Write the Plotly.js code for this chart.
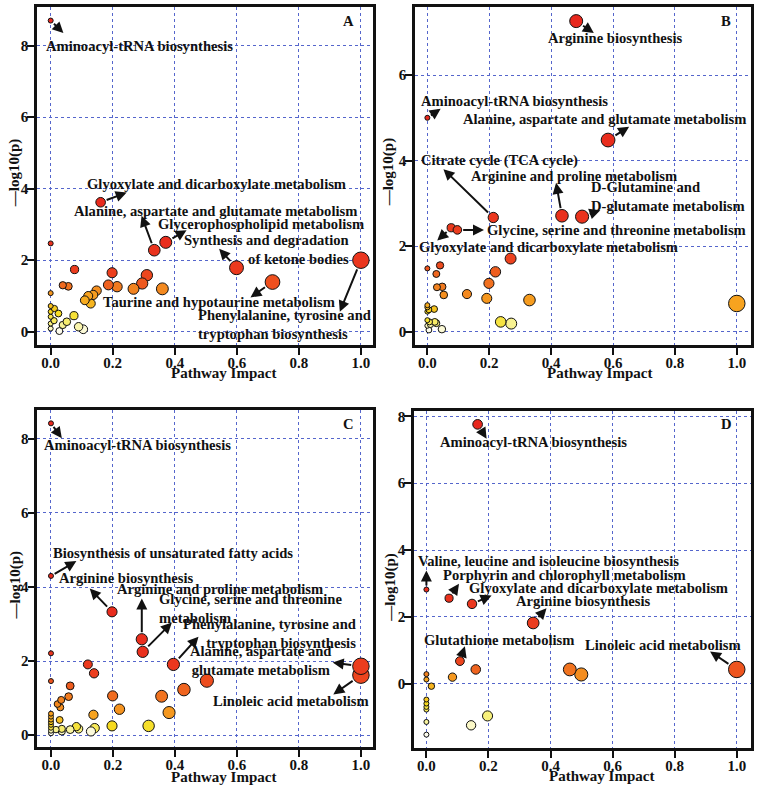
<!DOCTYPE html>
<html>
<head>
<meta charset="utf-8">
<script src="https://cdn.plot.ly/plotly-3.0.1.min.js"></script>
<style>
  html, body { margin: 0; padding: 0; background: #fff; }
  #chart { width: 762px; height: 794px; }
</style>
</head>
<body>
<div id="chart"></div>
<script>
// Pathway impact vs -log10(p), four panels (A-D)
// labelled points come first in each array so annotations can refer to them by index

const aX = [0, 0.161, 0.334, 0.371, 0.599, 0.715, 1.0,
    0, 0.077, 0, 0.039, 0.057, 0.198, 0.186, 0.214, 0.267, 0.295, 0.310, 0.360,
    0.110, 0.121, 0.137, 0.148, 0.129,
    0, 0.012, 0, 0.025, 0, 0.011, 0, 0, 0.075, 0.052, 0.039, 0.028, 0.090, 0.105];
const aY = [8.70, 3.62, 2.28, 2.50, 1.79, 1.39, 2.00,
    2.47, 1.74, 1.08, 1.30, 1.27, 1.65, 1.31, 1.26, 1.20, 1.35, 1.58, 1.20,
    0.88, 1.00, 1.03, 1.15, 0.79,
    0.72, 0.65, 0.56, 0.51, 0.42, 0.31, 0.23, 0.09, 0.45, 0.28, 0.19, 0.02, 0.14, 0.07];

const bX = [0.481, 0, 0.584, 0.213, 0.435, 0.500, 0.097, 0.077,
    0.269, 0.220, 0.199, 0.192, 0.128, 0.330, 1.0, 0.237, 0.271,
    0, 0.041, 0.029, 0.031, 0.048, 0.053,
    0, 0, 0.005, 0.022, 0, 0, 0.007, 0.024, 0.029, 0.010, 0, 0.005, 0.047];
const bY = [7.26, 5.00, 4.48, 2.67, 2.71, 2.69, 2.38, 2.43,
    1.71, 1.40, 1.13, 0.78, 0.88, 0.74, 0.66, 0.23, 0.19,
    1.48, 1.55, 1.35, 1.04, 1.05, 0.86,
    0.62, 0.57, 0.51, 0.53, 0.47, 0.27, 0.23, 0.23, 0.20, 0.17, 0.14, 0.04, 0.06];

const cX = [0, 0, 0.197, 0.293, 0.296, 0.395, 1.0, 1.0,
    0, 0, 0.119, 0.139, 0.062, 0.057, 0.033, 0.021, 0.030,
    0.503, 0.429, 0.357, 0.199, 0.221, 0.381, 0.137, 0.028,
    0, 0, 0, 0, 0, 0, 0, 0,
    0.016, 0.035, 0.035, 0.062, 0.082, 0.089, 0.129, 0.141, 0.197, 0.315];
const cY = [8.42, 4.30, 3.33, 2.59, 2.25, 1.91, 1.86, 1.62,
    2.21, 1.46, 1.91, 1.67, 1.33, 1.04, 0.95, 0.84, 0.75,
    1.47, 1.23, 1.05, 1.06, 0.70, 0.61, 0.55, 0.41,
    0.58, 0.50, 0.42, 0.35, 0.28, 0.20, 0.12, 0.05,
    0.15, 0.17, 0.10, 0.15, 0.23, 0.17, 0.10, 0.19, 0.25, 0.25];

const dX = [0.165, 0, 0.073, 0.147, 0.344, 0.108, 1.0,
    0.159, 0.084, 0.462, 0.499, 0, 0, 0.016,
    0, 0, 0, 0, 0, 0, 0.144, 0.197];
const dY = [7.76, 2.82, 2.56, 2.39, 1.82, 0.68, 0.43,
    0.43, 0.20, 0.43, 0.28, 0.29, 0.13, -0.07,
    -0.47, -0.59, -0.69, -0.77, -1.14, -1.52, -1.24, -0.96];

const aNames = ['Aminoacyl-tRNA biosynthesis', 'Glyoxylate and dicarboxylate metabolism',
    'Alanine, aspartate and glutamate metabolism', 'Glycerophospholipid metabolism',
    'Synthesis and degradation<br>of ketone bodies', 'Taurine and hypotaurine metabolism',
    'Phenylalanine, tyrosine and<br>tryptophan biosynthesis'];
const bNames = ['Arginine biosynthesis', 'Aminoacyl-tRNA biosynthesis',
    'Alanine, aspartate and glutamate metabolism', 'Citrate cycle (TCA cycle)',
    'Arginine and proline metabolism', 'D-Glutamine and<br>D-glutamate metabolism',
    'Glycine, serine and threonine metabolism', 'Glyoxylate and dicarboxylate metabolism'];
const cNames = ['Aminoacyl-tRNA biosynthesis', 'Biosynthesis of unsaturated fatty acids',
    'Arginine biosynthesis', 'Arginine and proline metabolism',
    'Glycine, serine and threonine<br>metabolism', 'Phenylalanine, tyrosine and<br>tryptophan biosynthesis',
    'Alanine, aspartate and<br>glutamate metabolism', 'Linoleic acid metabolism'];
const dNames = ['Aminoacyl-tRNA biosynthesis', 'Valine, leucine and isoleucine biosynthesis',
    'Porphyrin and chlorophyll metabolism', 'Glyoxylate and dicarboxylate metabolism',
    'Arginine biosynthesis', 'Glutathione metabolism', 'Linoleic acid metabolism'];

const xTicks = [0, 0.2, 0.4, 0.6, 0.8, 1.0];
const yTicks = [0, 2, 4, 6, 8];

// heat palette: red (most significant) -> orange -> yellow -> white
const heat = [
    [0, '#e8271d'], [0.22, '#ec3f1e'], [0.42, '#f2801f'], [0.58, '#f7a51f'],
    [0.72, '#f6dc1e'], [0.86, '#f7f07c'], [1, '#fdfcee']
];

const FONT = 'Liberation Serif, Times New Roman, serif';
const txtFont = { family: FONT, size: 14.6, weight: 'bold', color: '#111' };

// colour by rank of p (like heat.colors in R), size by impact
function rankColor(ys) {
    const order = ys.map((v, i) => i).sort((p, q) => ys[q] - ys[p]);
    const r = new Array(ys.length);
    order.forEach((idx, k) => { r[idx] = k / (ys.length - 1); });
    return r;
}
const markSize = xs => xs.map(v => 5 + 11.5 * Math.sqrt(v));

const panels = [
    { id: '', x: aX, y: aY, names: aNames, letter: 'A',
      dx: [0.0486, 0.4895], dy: [0.5655, 0.9912], xr: [-0.044, 1.039], yr: [-0.37, 9.08],
      lab: [
        { tx: 0.286, ty: 8.0, hx: 0.041, hy: 8.35 },
        { tx: 0.533, ty: 4.12, hx: 0.245, hy: 3.89 },
        { tx: 0.53, ty: 3.38, hx: 0.293, hy: 3.24 },
        { tx: 0.678, ty: 3.01, hx: 0.438, hy: 2.84 },
        { tx: 0.967, ty: 2.31, hx: 0.543, hy: 2.32, xa: 'right', al: 'right' },
        { tx: 0.543, ty: 0.84, hx: 0.644, hy: 0.96 },
        { tx: 0.47, ty: 0.19, hx: 0.932, hy: 0.56, xa: 'left', al: 'left' }
      ],
      ytl: { x: -0.065, y: 0.509 }, xtl: { x: 0.556, y: -0.084 } },
    { id: '2', x: bX, y: bY, names: bNames, letter: 'B',
      dx: [0.5446, 0.9856], dy: [0.5655, 0.9912], xr: [-0.04, 1.046], yr: [-0.31, 7.59],
      lab: [
        { tx: 0.608, ty: 6.87, hx: 0.538, hy: 6.98 },
        { tx: 0.282, ty: 5.40, hx: 0.043, hy: 5.21 },
        { tx: 0.572, ty: 4.97, hx: 0.652, hy: 4.79 },
        { tx: 0.234, ty: 4.0, hx: 0.052, hy: 3.80 },
        { tx: 0.475, ty: 3.64, hx: 0.416, hy: 3.48 },
        { tx: 0.522, ty: 3.17, hx: 0.559, hy: 2.84, xa: 'left', al: 'left' },
        { tx: 0.186, ty: 2.38, hx: 0.183, hy: 2.38, xa: 'left', al: 'left' },
        { tx: 0.392, ty: 1.97, hx: 0.032, hy: 2.13 }
      ],
      ytl: { x: -0.079, y: 0.512 }, xtl: { x: 0.55, y: -0.084 } },
    { id: '3', x: cX, y: cY, names: cNames, letter: 'C',
      dx: [0.049, 0.4895], dy: [0.0592, 0.4836], xr: [-0.044, 1.039], yr: [-0.32, 8.78],
      lab: [
        { tx: 0.279, ty: 7.84, hx: 0.035, hy: 8.02 },
        { tx: 0.393, ty: 4.91, hx: 0.082, hy: 4.70 },
        { tx: 0.245, ty: 4.25, hx: 0.125, hy: 3.96 },
        { tx: 0.546, ty: 3.95, hx: 0.293, hy: 3.69 },
        { tx: 0.342, ty: 3.43, hx: 0.39, hy: 3.04, xa: 'left', al: 'left' },
        { tx: 0.991, ty: 2.75, hx: 0.476, hy: 2.66, xa: 'right', al: 'right' },
        { tx: 0.678, ty: 2.01, hx: 0.909, hy: 1.96 },
        { tx: 0.774, ty: 0.93, hx: 0.911, hy: 1.10 }
      ],
      ytl: { x: -0.066, y: 0.48 }, xtl: { x: 0.556, y: -0.089 } },
    { id: '4', x: dX, y: dY, names: dNames, letter: 'D',
      dx: [0.5433, 0.9856], dy: [0.0579, 0.4824], xr: [-0.04, 1.046], yr: [-1.92, 8.16],
      lab: [
        { tx: 0.346, ty: 7.23, hx: 0.194, hy: 7.33 },
        { tx: 0.392, ty: 3.66, hx: 0, hy: 3.39 },
        { tx: 0.444, ty: 3.26, hx: 0.105, hy: 2.99 },
        { tx: 0.556, ty: 2.87, hx: 0.21, hy: 2.64 },
        { tx: 0.505, ty: 2.49, hx: 0.387, hy: 2.26 },
        { tx: 0.234, ty: 1.32, hx: 0.124, hy: 1.12 },
        { tx: 0.763, ty: 1.15, hx: 0.914, hy: 0.97 }
      ],
      ytl: { x: -0.07, y: 0.477 }, xtl: { x: 0.555, y: -0.084 } }
];

const traces = [];
const annotations = [];
const layout = {
    width: 762, height: 794,
    margin: { l: 0, r: 0, t: 0, b: 0 },
    paper_bgcolor: '#fff', plot_bgcolor: '#fff',
    showlegend: false,
    font: txtFont
};

panels.forEach(p => {
    const xa = 'x' + p.id, ya = 'y' + p.id;
    const axBase = {
        showline: true, mirror: true, linecolor: '#111', linewidth: 2.5,
        ticks: 'outside', ticklen: 7, tickwidth: 2, tickcolor: '#111',
        showgrid: true, gridcolor: '#5566cc', gridwidth: 1, griddash: 'dot',
        zeroline: false, tickfont: { family: FONT, size: 15, weight: 'bold', color: '#111' }
    };
    layout['xaxis' + p.id] = { ...axBase, domain: p.dx, range: p.xr, anchor: ya,
        tickvals: xTicks, tickformat: '.1f', ticklabelstandoff: -5 };
    layout['yaxis' + p.id] = { ...axBase, domain: p.dy, range: p.yr, anchor: xa,
        tickvals: yTicks, ticklabelstandoff: -4 };

    // draw labelled points last so they sit on top
    traces.push({
        type: 'scatter', mode: 'markers', xaxis: xa, yaxis: ya,
        x: p.x.slice().reverse(), y: p.y.slice().reverse(),
        marker: {
            size: markSize(p.x).reverse(),
            color: rankColor(p.y).reverse(),
            colorscale: heat, cmin: 0, cmax: 1,
            line: { color: '#111', width: 1 }, opacity: 1
        },
        hoverinfo: 'x+y'
    });

    p.lab.forEach((l, i) => {
        // arrow from point to label
        annotations.push({
            xref: xa, yref: ya, axref: xa, ayref: ya,
            x: l.hx, y: l.hy, ax: p.x[i], ay: p.y[i],
            text: '', showarrow: true, arrowhead: 2, arrowsize: 1.1, arrowwidth: 2,
            arrowcolor: '#111', startstandoff: markSize([p.x[i]])[0] / 2, standoff: 0
        });
        annotations.push({
            xref: xa, yref: ya, x: l.tx, y: l.ty, text: p.names[i], showarrow: false,
            xanchor: l.xa || 'center', align: l.al || 'center', yanchor: 'middle',
            font: txtFont
        });
    });

    annotations.push({
        xref: xa + ' domain', yref: ya + ' domain', x: 0.926, y: 0.96,
        xanchor: 'center', yanchor: 'middle',
        text: p.letter, showarrow: false, font: txtFont
    });
    annotations.push({
        xref: xa + ' domain', yref: ya + ' domain', x: p.xtl.x, y: p.xtl.y,
        xanchor: 'center', yanchor: 'middle',
        text: 'Pathway Impact', showarrow: false, font: { ...txtFont, size: 15 }
    });
    annotations.push({
        xref: xa + ' domain', yref: ya + ' domain', x: p.ytl.x, y: p.ytl.y,
        xanchor: 'center', yanchor: 'middle',
        text: '\u2014log10(p)', textangle: -90, showarrow: false, font: { ...txtFont, size: 15 }
    });
});

layout.annotations = annotations;

Plotly.newPlot('chart', traces, layout, { displayModeBar: false, responsive: false });
</script>
</body>
</html>
